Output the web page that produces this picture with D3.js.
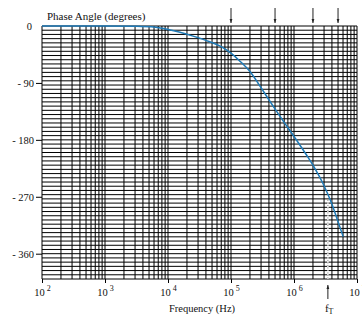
<!DOCTYPE html>
<html>
<head>
<meta charset="utf-8">
<script src="https://cdn.jsdelivr.net/npm/d3@7"></script>
<style>
  html, body { margin: 0; padding: 0; background: #fff; }
  svg { display: block; }
  svg text { font-family: "Liberation Serif", "Times New Roman", serif !important; fill: #111; }
</style>
</head>
<body>
<svg id="chart" width="362" height="320"></svg>
<script>
// Phase response of the amplifier (frequency in Hz, phase in degrees)
const freqHz = [1e2, 1e3, 3200, 6300, 1e4, 15500, 25000, 46000, 71000, 1e5, 140000, 200000,
  280000, 390000, 530000, 740000, 1040000, 1580000, 2140000, 2820000, 3310000, 3980000, 4790000, 6030000];
const phaseDeg = [0, 0, -0.5, -2, -5.5, -10, -16, -25, -33, -43, -56, -72,
  -93, -115, -135, -156, -177, -204, -225, -247, -262, -281, -304, -333];

// Axis ticks and labels
const freqTicks = [1e2, 1e3, 1e4, 1e5, 1e6, 1e7];
const freqExponents = ["2", "3", "4", "5", "6", "7"];
const phaseTicks = [0, -90, -180, -270, -360];
const phaseLabels = ["0", "- 90", "- 180", "- 270", "- 360"];

// Frequencies marked with arrows above the plot, and the transition frequency
const markerFreqs = [1e5, 5e5, 2e6, 5e6];
const fT = 3.45e6;

const svg = d3.select("#chart");
const x = d3.scaleLog().domain([1e2, 1e7]).range([42, 357]);
const y = d3.scaleLinear().domain([0, -400]).range([26, 279]);

// Arrowhead
const defs = svg.append("defs");
defs.append("marker")
  .attr("id", "head")
  .attr("viewBox", "0 0 10 10")
  .attr("refX", 10).attr("refY", 5)
  .attr("markerWidth", 4).attr("markerHeight", 4)
  .attr("orient", "auto")
  .append("path").attr("d", "M0,1.5 L10,5 L0,8.5 Z").attr("fill", "#222");

// Log-paper grid
const vGrid = [];
for (let dec = 1e2; dec < 1e7; dec *= 10) {
  for (let m = 1; m <= 9; m++) vGrid.push(dec * m);
}
vGrid.push(1e7);
const hGrid = d3.range(0, 61).map(i => -i * 400 / 60);

const grid = svg.append("g").attr("stroke", "#000").attr("stroke-width", 1);
grid.selectAll("line.v").data(vGrid).join("line")
  .attr("class", "v")
  .attr("x1", d => x(d)).attr("x2", d => x(d))
  .attr("y1", y(0)).attr("y2", y(-400));
grid.selectAll("line.h").data(hGrid).join("line")
  .attr("class", "h")
  .attr("x1", x(1e2)).attr("x2", x(1e7))
  .attr("y1", d => y(d)).attr("y2", d => y(d));

// Y axis: ticks and labels
const yAxis = svg.append("g")
  .attr("transform", `translate(${x(1e2)},0)`)
  .call(d3.axisLeft(y).tickValues(phaseTicks).tickSize(6).tickPadding(2)
    .tickFormat((d, i) => phaseLabels[i]));
yAxis.select(".domain").remove();
yAxis.selectAll(".tick line").attr("stroke", "#000");
yAxis.selectAll(".tick text").attr("font-size", 10.5);
yAxis.selectAll(".tick").filter(d => d === 0).select("line").remove();
yAxis.selectAll(".tick").filter(d => d === 0).select("text").attr("x", -10);

// X axis: ticks and power-of-ten labels
const xAxis = svg.append("g")
  .attr("transform", `translate(0,${y(-400)})`)
  .call(d3.axisBottom(x).tickValues(freqTicks).tickSize(4).tickFormat(""));
xAxis.select(".domain").remove();
xAxis.selectAll(".tick line").attr("stroke", "#000");
xAxis.selectAll(".tick text").remove();
xAxis.selectAll(".tick").each(function (d, i) {
  const t = d3.select(this).append("text")
    .attr("y", 17)
    .attr("text-anchor", "middle")
    .attr("font-size", 10.5);
  t.append("tspan").text("10");
  t.append("tspan").attr("dx", 2).attr("dy", -5).attr("font-size", 8).text(freqExponents[i]);
});

// Dotted marker at fT
svg.append("line")
  .attr("x1", x(fT)).attr("x2", x(fT))
  .attr("y1", y(-275)).attr("y2", y(-400))
  .attr("stroke", "#fff").attr("stroke-width", 1.4);
svg.append("line")
  .attr("x1", x(fT)).attr("x2", x(fT))
  .attr("y1", y(-275)).attr("y2", y(-400))
  .attr("stroke", "#666").attr("stroke-width", 0.8).attr("stroke-dasharray", "1,1.5");

// Phase curve
const pts = freqHz.map((f, i) => [f, phaseDeg[i]]);
svg.append("path")
  .datum(pts)
  .attr("fill", "none")
  .attr("stroke", "#1f7ab6")
  .attr("stroke-width", 1.5)
  .attr("d", d3.line().x(d => x(d[0])).y(d => y(d[1])).curve(d3.curveMonotoneX));

// Arrows above the plot
svg.selectAll("line.marker").data(markerFreqs).join("line")
  .attr("class", "marker")
  .attr("x1", d => x(d)).attr("x2", d => x(d))
  .attr("y1", 8).attr("y2", 23)
  .attr("stroke", "#222").attr("stroke-width", 1)
  .attr("marker-end", "url(#head)");

// fT arrow and label
svg.append("line")
  .attr("x1", x(fT)).attr("x2", x(fT))
  .attr("y1", 299).attr("y2", 285)
  .attr("stroke", "#222").attr("stroke-width", 1)
  .attr("marker-end", "url(#head)");
const fl = svg.append("text")
  .attr("x", x(fT) - 3).attr("y", 312)
  .attr("font-size", 11);
fl.append("tspan").text("f");
fl.append("tspan").attr("dy", 2).attr("font-size", 8).text("T");

// Titles
svg.append("text")
  .attr("x", 47).attr("y", 20)
  .attr("font-size", 11)
  .text("Phase Angle (degrees)");
svg.append("text")
  .attr("x", 202).attr("y", 312)
  .attr("text-anchor", "middle")
  .attr("font-size", 10.5)
  .text("Frequency (Hz)");
</script>
</body>
</html>
